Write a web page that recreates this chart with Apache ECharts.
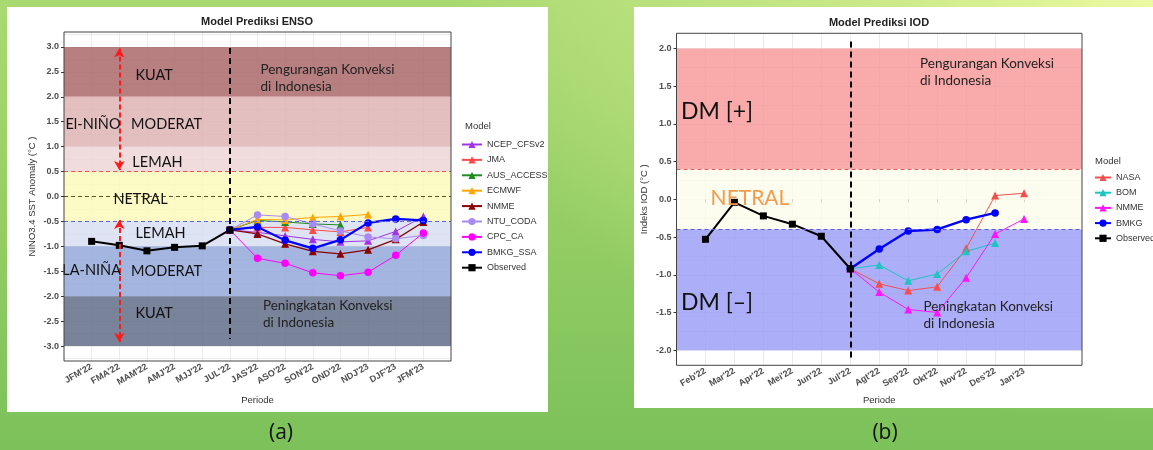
<!DOCTYPE html>
<html>
<head>
<meta charset="utf-8">
<script src="https://cdn.jsdelivr.net/npm/echarts@6/dist/echarts.min.js"></script>
<style>
html,body{margin:0;padding:0;width:1153px;height:450px;overflow:hidden;}
body{background:radial-gradient(ellipse 700px 420px at 100% 0%, rgba(236,249,162,1) 0%, rgba(214,239,146,0.8) 35%, rgba(190,226,125,0) 100%), linear-gradient(to bottom, #aad972 0%, #92cc63 55%, #7cc15a 100%);position:relative;}
.card{position:absolute;background:#fff;}
#chart{position:absolute;left:0;top:0;width:1153px;height:450px;}
</style>
</head>
<body>
<div class="card" style="left:7px;top:7px;width:541px;height:405px"></div>
<div class="card" style="left:634px;top:7px;width:519px;height:401px"></div>
<div id="chart"></div>
<script>
// ---------------- DATA : ENSO (panel a) ----------------
const ensoCategories = ["JFM'22","FMA'22","MAM'22","AMJ'22","MJJ'22","JUL'22","JAS'22","ASO'22","SON'22","OND'22","NDJ'23","DJF'23","JFM'23"];
const ensoXTicks = [1,2,3,4,5,6,7,8,9,10,11,12,13];
const ensoYMajor = [-3,-2.5,-2,-1.5,-1,-0.5,0,0.5,1,1.5,2,2.5,3];
const ensoYGrid = [-3.25,-3,-2.75,-2.5,-2.25,-2,-1.75,-1.5,-1.25,-1,-0.75,-0.5,-0.25,0,0.25,0.5,0.75,1,1.25,1.5,1.75,2,2.25,2.5,2.75,3,3.25];
const ensoObserved = [-0.90,-0.98,-1.09,-1.02,-0.99,-0.67,null,null,null,null,null,null,null];
const ensoNCEP     = [null,null,null,null,null,-0.67,-0.72,-0.79,-0.86,-0.91,-0.89,-0.70,-0.40];
const ensoJMA      = [null,null,null,null,null,-0.67,-0.62,-0.62,-0.67,-0.71,-0.62,null,null];
const ensoAUS      = [null,null,null,null,null,-0.67,-0.48,-0.51,-0.55,-0.57,null,null,null];
const ensoECMWF    = [null,null,null,null,null,-0.67,-0.46,-0.47,-0.42,-0.40,-0.36,null,null];
const ensoNMME     = [null,null,null,null,null,-0.67,-0.75,-0.95,-1.10,-1.15,-1.07,-0.86,-0.51];
const ensoNTU      = [null,null,null,null,null,-0.67,-0.37,-0.40,-0.55,-0.69,-0.81,-0.85,-0.78];
const ensoCPC      = [null,null,null,null,null,-0.67,-1.24,-1.34,-1.53,-1.59,-1.52,-1.18,-0.73];
const ensoBMKG     = [null,null,null,null,null,-0.67,-0.61,-0.88,-1.04,-0.87,-0.53,-0.45,-0.48];
const ensoBands = [[2,3],[1,2],[0.5,1],[-0.5,0.5],[-1,-0.5],[-2,-1],[-3,-2]];
const ensoRefLines = [0.5, 0, -0.5];
const ensoDivider = [6, 2.98, -2.86];
const ensoArrows = [[2, 2.97, 0.53],[2, -0.47, -2.92]];
const ensoLabels = [
  ['KUAT', 3.26, 2.43], ['El-NIÑO', 1.05, 1.44], ['MODERAT', 3.71, 1.44], ['LEMAH', 3.38, 0.68],
  ['NETRAL', 2.77, -0.05], ['LEMAH', 3.49, -0.74], ['LA-NIÑA', 1.0, -1.49], ['MODERAT', 3.71, -1.51],
  ['KUAT', 3.26, -2.35]
];
const ensoNotes = [['Pengurangan Konveksi\ndi Indonesia', 7.09, 2.37], ['Peningkatan Konveksi\ndi Indonesia', 7.18, -2.36]];

// ---------------- DATA : IOD (panel b) ----------------
const iodCategories = ["Feb'22","Mar'22","Apr'22","Mei'22","Jun'22","Jul'22","Agt'22","Sep'22","Okt'22","Nov'22","Des'22","Jan'23"];
const iodXTicks = [1,2,3,4,5,6,7,8,9,10,11,12];
const iodYMajor = [-2,-1.5,-1,-0.5,0,0.5,1,1.5,2];
const iodYGrid = [-2,-1.75,-1.5,-1.25,-1,-0.75,-0.5,-0.25,0,0.25,0.5,0.75,1,1.25,1.5,1.75,2];
const iodObserved = [-0.53,-0.04,-0.22,-0.33,-0.49,-0.92,null,null,null,null,null,null];
const iodNASA     = [null,null,null,null,null,-0.92,-1.12,-1.21,-1.16,-0.65,0.05,0.08];
const iodBOM      = [null,null,null,null,null,-0.92,-0.87,-1.08,-0.99,-0.69,-0.58,null];
const iodNMME     = [null,null,null,null,null,-0.92,-1.23,-1.46,-1.50,-1.04,-0.46,-0.26];
const iodBMKG     = [null,null,null,null,null,-0.92,-0.66,-0.42,-0.40,-0.27,-0.18,null];
const iodBands = [[0.4,2],[-0.4,0.4],[-2,-0.4]];
const iodRefLines = [0.4, -0.4];
const iodDivider = [6, 2.09, -2.13];
const iodLabels = [['DM [+]', 0.135, 1.16], ['DM [–]', 0.135, -1.37]];
const iodNetral = ['NETRAL', 1.16, 0.02];
const iodNotes = [['Pengurangan Konveksi\ndi Indonesia', 8.39, 1.68], ['Peningkatan Konveksi\ndi Indonesia', 8.51, -1.54]];

// ---------------- LAYOUT / STYLE ----------------
const GA = {left:64, top:32, width:387, height:329};
const GB = {left:676.5, top:33.3, width:405.5, height:332};
const AXF = 'Liberation Sans';
const ANF = 'Lato';
const ensoBandColors = ['rgba(172,104,106,0.85)','rgba(223,180,181,0.85)','rgba(237,214,214,0.85)','rgba(253,250,187,0.85)','rgba(217,223,242,0.85)','rgba(148,169,217,0.85)','rgba(98,109,135,0.85)'];
const iodBandColors = ['rgba(248,150,150,0.8)','rgba(253,253,235,0.8)','rgba(152,154,246,0.8)'];

function pts(arr){ return arr.map((v,i)=> v==null?null:[i+1,v]).filter(p=>p); }

const ensoSeriesDef = [
  {name:'NCEP_CFSv2', data:ensoNCEP, color:'#a033e6', symbol:'triangle', w:1},
  {name:'JMA', data:ensoJMA, color:'#ff4a4a', symbol:'triangle', w:1},
  {name:'AUS_ACCESS', data:ensoAUS, color:'#1f8c1f', symbol:'triangle', w:1},
  {name:'ECMWF', data:ensoECMWF, color:'#ffa500', symbol:'triangle', w:1},
  {name:'NMME', data:ensoNMME, color:'#8b0000', symbol:'triangle', w:1.2},
  {name:'NTU_CODA', data:ensoNTU, color:'#a98af2', symbol:'circle', w:1},
  {name:'CPC_CA', data:ensoCPC, color:'#ff00ff', symbol:'circle', w:1},
  {name:'BMKG_SSA', data:ensoBMKG, color:'#0000ff', symbol:'circle', w:2.2},
  {name:'Observed', data:ensoObserved, color:'#000000', symbol:'rect', w:2}
];
const iodSeriesDef = [
  {name:'NASA', data:iodNASA, color:'#f44f4f', symbol:'triangle', w:1},
  {name:'BOM', data:iodBOM, color:'#1cc4c4', symbol:'triangle', w:1},
  {name:'NMME ', data:iodNMME, color:'#ff14ff', symbol:'triangle', w:1},
  {name:'BMKG', data:iodBMKG, color:'#0000ff', symbol:'circle', w:2.4},
  {name:'Observed ', data:iodObserved, color:'#000000', symbol:'rect', w:2}
];

function dataSeries(def, xi, yi){
  return def.map(d => ({
    type:'line', name:d.name, xAxisIndex:xi, yAxisIndex:yi, data:pts(d.data),
    symbol:d.symbol, symbolSize: d.symbol==='triangle'?8:(d.symbol==='rect'?7:7.5), showSymbol:true,
    lineStyle:{color:d.color, width:d.w}, itemStyle:{color:d.color}, z:3, silent:true, animation:false
  }));
}

function annotItem(t, x, y, pos, size, color, lh){
  return {coord:[x,y], symbol:'circle', symbolSize:1, itemStyle:{color:'rgba(0,0,0,0)'},
    label:{show:true, position:pos, distance:0, formatter:t, fontSize:size, color:color, fontFamily:ANF, lineHeight:lh||size+3, align: pos==='inside'?'center':'left'}};
}

function decoSeries(xi, yi, bands, bandColors, refLines, refColors, divider, arrows, labels){
  const lines = refLines.map((v,i)=>({yAxis:v, lineStyle:{color:refColors[i], type:[4,3], width:1}}));
  lines.push([{coord:[divider[0],divider[1]], symbol:'none'},{coord:[divider[0],divider[2]], symbol:'none', lineStyle:{color:'#000', type:[6,4], width:2}}]);
  arrows.forEach(a => lines.push([{coord:[a[0],a[1]], symbol:'arrow', symbolSize:[8,9]},{coord:[a[0],a[2]], symbol:'arrow', symbolSize:[8,9], lineStyle:{color:'#ff1a1a', type:[5,3], width:2}}]));
  return [
    {type:'line', name:'_bands'+xi, xAxisIndex:xi, yAxisIndex:yi, data:[], z:1, silent:true, animation:false,
      markArea:{silent:true, data: bands.map((b,i)=>[{yAxis:b[1], itemStyle:{color:bandColors[i]}},{yAxis:b[0]}])}},
    {type:'line', name:'_text'+xi, xAxisIndex:xi, yAxisIndex:yi, data:[], z:1, silent:true, animation:false,
      markPoint:{silent:true, animation:false, data: labels}},
    {type:'line', name:'_lines'+xi, xAxisIndex:xi, yAxisIndex:yi, data:[], z:2, silent:true, animation:false,
      markLine:{silent:true, animation:false, symbol:['none','none'], label:{show:false}, data: lines}}
  ];
}

const ensoAnn = ensoLabels.map(l => annotItem(l[0], l[1], l[2], 'inside', 14.5, '#111'))
  .concat(ensoNotes.map(l => annotItem(l[0], l[1], l[2], 'right', 13.5, '#222', 17)));
const iodAnn = iodLabels.map(l => annotItem(l[0], l[1], l[2], 'right', 23, '#111'))
  .concat([annotItem(iodNetral[0], iodNetral[1], iodNetral[2], 'right', 21, '#f39a4b')])
  .concat(iodNotes.map(l => annotItem(l[0], l[1], l[2], 'right', 13.5, '#222', 17)));

const axisLbl = {fontSize:9, color:'#4d4d4d', fontFamily:AXF, fontWeight:'bold'};
const nameStyle = {fontSize:9.5, color:'#333', fontFamily:AXF};

function xAxisDef(gi, cats, ticks, gap){
  return {gridIndex:gi, type:'value', min:0, max:14, axisLine:{show:false},
    axisTick:{show:true, customValues:ticks, length:3, lineStyle:{color:'#333'}},
    axisLabel:Object.assign({customValues:ticks, formatter:v=>cats[Math.round(v)-1]||'', rotate:30, margin:5}, axisLbl),
    splitLine:{show:true, lineStyle:{color:'#ebebeb', width:1}},
    name:'Periode', nameLocation:'middle', nameGap:gap, nameTextStyle:nameStyle};
}
function yAxisDefs(gi, lo, hi, major, grid, title, gap){
  return [
    {gridIndex:gi, type:'value', min:lo, max:hi, axisLine:{show:false},
      axisTick:{show:false, customValues:grid},
      axisLabel:Object.assign({customValues:major, formatter:v=>v.toFixed(1), margin:5}, axisLbl),
      splitLine:{show:true, lineStyle:{color:'#ebebeb', width:1}},
      name:title, nameLocation:'middle', nameGap:gap, nameTextStyle:nameStyle},
    {gridIndex:gi, type:'value', min:lo, max:hi, position:'left', axisLine:{show:false},
      axisTick:{show:true, customValues:major, length:3, lineStyle:{color:'#333'}},
      axisLabel:{show:false}, splitLine:{show:false}}
  ];
}

const chart = echarts.init(document.getElementById('chart'), null, {renderer:'canvas'});
const option = {
  backgroundColor:'transparent',
  animation:false,
  grid:[
    Object.assign({show:true, backgroundColor:'#fff', borderWidth:0, outerBoundsMode:'none'}, GA),
    Object.assign({show:true, backgroundColor:'#fff', borderWidth:0, outerBoundsMode:'none'}, GB)
  ],
  xAxis:[ xAxisDef(0, ensoCategories, ensoXTicks, 34), xAxisDef(1, iodCategories, iodXTicks, 30) ],
  yAxis: yAxisDefs(0, -3.3, 3.3, ensoYMajor, ensoYGrid, 'NINO3.4 SST Anomaly (°C )', 27)
    .concat(yAxisDefs(1, -2.2, 2.2, iodYMajor, iodYGrid, 'Indeks IOD (°C )', 27)),
  legend:[
    {data:ensoSeriesDef.map(d=>d.name), orient:'vertical', left:456, top:135, itemWidth:20, itemHeight:9, itemGap:6.4,
      selectedMode:false, textStyle:{fontSize:9, color:'#333', fontFamily:AXF}},
    {data:iodSeriesDef.map(d=>d.name), orient:'vertical', left:1089, top:168, itemWidth:16, itemHeight:9, itemGap:6.2,
      selectedMode:false, textStyle:{fontSize:9, color:'#333', fontFamily:AXF}}
  ],
  graphic:[
    {type:'rect', shape:{x:GA.left, y:GA.top, width:GA.width, height:GA.height}, style:{fill:null, stroke:'#444', lineWidth:1}, z:100, silent:true},
    {type:'rect', shape:{x:GB.left, y:GB.top, width:GB.width, height:GB.height}, style:{fill:null, stroke:'#444', lineWidth:1}, z:100, silent:true},
    {type:'text', x:257, y:22, z:100, style:{text:'Model Prediksi ENSO', font:'bold 11px "Liberation Sans"', fill:'#222', align:'center', verticalAlign:'middle'}},
    {type:'text', x:879, y:23, z:100, style:{text:'Model Prediksi IOD', font:'bold 11px "Liberation Sans"', fill:'#222', align:'center', verticalAlign:'middle'}},
    {type:'text', x:465, y:126, z:100, style:{text:'Model', font:'9.5px "Liberation Sans"', fill:'#333', align:'left', verticalAlign:'middle'}},
    {type:'text', x:1095, y:161, z:100, style:{text:'Model', font:'9.5px "Liberation Sans"', fill:'#333', align:'left', verticalAlign:'middle'}},
    {type:'text', x:281, y:433, z:100, style:{text:'(a)', font:'21px "Open Sans"', fill:'#111', align:'center', verticalAlign:'middle'}},
    {type:'text', x:885, y:433, z:100, style:{text:'(b)', font:'21px "Open Sans"', fill:'#111', align:'center', verticalAlign:'middle'}}
  ],
  series: []
    .concat(decoSeries(0, 0, ensoBands, ensoBandColors, ensoRefLines, ['#ff4d4d','#55551f','#5566ee'], ensoDivider, ensoArrows, ensoAnn))
    .concat(dataSeries(ensoSeriesDef, 0, 0))
    .concat(decoSeries(1, 2, iodBands, iodBandColors, iodRefLines, ['#f05858','#5a5af0'], iodDivider, [], iodAnn))
    .concat(dataSeries(iodSeriesDef, 1, 2))
};
chart.setOption(option);
</script>
</body>
</html>
